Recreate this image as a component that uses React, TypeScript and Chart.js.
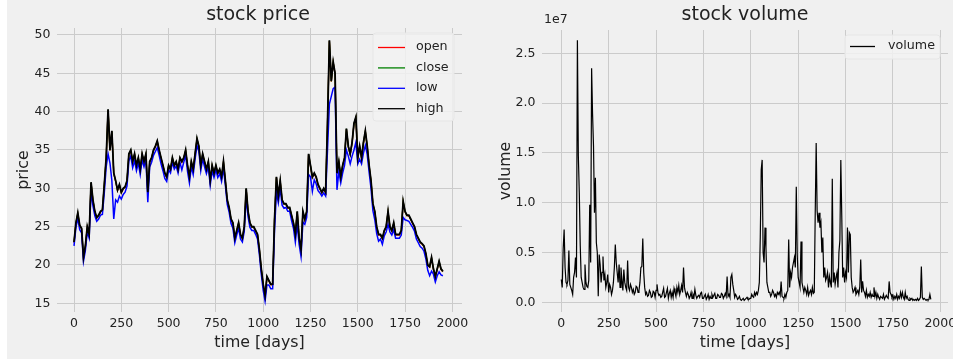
import React, { useEffect, useRef } from "react";
import { Chart, registerables } from "chart.js";

Chart.register(...registerables);

// ---- data ----
// price: one sample every 10 trading days
const PRICE_STEP_DAYS = 10;
// volume: one sample every 5 trading days
const VOLUME_STEP_DAYS = 5;

const openPrice = [
  22.9, 25.4, 26.7, 25.1, 24.7, 20.9, 22.4, 24.9, 23.9, 30.7,
  28.4, 26.9, 26.1, 26.4, 26.9, 27.1, 30.4, 33.9, 40.2, 34.9,
  37.4, 31.9, 30.9, 29.7, 30.4, 29.4, 29.9, 30.1, 30.9, 34.4,
  34.9, 33.4, 34.4, 32.9, 33.9, 32.4, 34.4, 33.4, 34.4, 29.4,
  33.4, 33.9, 34.9, 35.4, 36.1, 34.9, 33.9, 32.9, 31.9, 31.4,
  32.9, 32.4, 33.9, 32.9, 33.4, 32.4, 33.9, 33.4, 33.9, 34.9,
  32.9, 31.4, 33.4, 32.4, 34.4, 36.4, 35.4, 32.9, 34.4, 33.4,
  32.4, 33.4, 30.9, 32.9, 31.9, 32.9, 31.9, 32.4, 31.4, 33.4,
  30.9, 28.4, 27.4, 25.9, 25.4, 23.4, 24.4, 25.4, 23.9, 23.4,
  24.9, 29.9, 26.9, 25.4, 24.9, 24.9, 24.4, 23.9, 21.9, 19.4,
  17.4, 15.9, 18.4, 17.9, 17.4, 17.4, 25.9, 31.4, 28.9, 30.9,
  28.4, 27.9, 27.9, 27.4, 27.4, 26.4, 25.4, 23.9, 26.9, 23.4,
  21.9, 26.9, 25.9, 26.9, 34.4, 32.9, 31.4, 31.9, 31.4, 30.4,
  29.9, 29.4, 29.9, 29.4, 38.4, 49.2, 43.9, 46.4, 44.9, 31.9,
  33.4, 31.4, 32.9, 33.9, 37.7, 35.4, 34.4, 35.9, 38.4, 39.2,
  33.9, 35.4, 33.9, 35.9, 37.4, 35.4, 32.9, 30.9, 27.9, 26.9,
  24.9, 23.9, 23.9, 23.4, 24.4, 24.9, 26.9, 24.9, 24.4, 25.4,
  23.9, 23.9, 23.9, 24.4, 28.2, 26.9, 26.4, 26.4, 25.9, 25.4,
  24.9, 23.9, 23.4, 22.9, 22.7, 22.4, 21.4, 19.9, 19.7, 20.9,
  19.4, 18.4, 19.4, 20.4, 19.4, 19.1,
];

const closePrice = [
  22.95, 25.45, 26.75, 25.15, 24.75, 20.95, 22.45, 24.95, 23.95, 30.75,
  28.45, 26.95, 26.15, 26.45, 26.95, 27.15, 30.45, 33.95, 40.25, 34.95,
  37.45, 31.95, 30.95, 29.75, 30.45, 29.45, 29.95, 30.15, 30.95, 34.45,
  34.95, 33.45, 34.45, 32.95, 33.95, 32.45, 34.45, 33.45, 34.45, 29.45,
  33.45, 33.95, 34.95, 35.45, 36.15, 34.95, 33.95, 32.95, 31.95, 31.45,
  32.95, 32.45, 33.95, 32.95, 33.45, 32.45, 33.95, 33.45, 33.95, 34.95,
  32.95, 31.45, 33.45, 32.45, 34.45, 36.45, 35.45, 32.95, 34.45, 33.45,
  32.45, 33.45, 30.95, 32.95, 31.95, 32.95, 31.95, 32.45, 31.45, 33.45,
  30.95, 28.45, 27.45, 25.95, 25.45, 23.45, 24.45, 25.45, 23.95, 23.45,
  24.95, 29.95, 26.95, 25.45, 24.95, 24.95, 24.45, 23.95, 21.95, 19.45,
  17.45, 15.95, 18.45, 17.95, 17.45, 17.45, 25.95, 31.45, 28.95, 30.95,
  28.45, 27.95, 27.95, 27.45, 27.45, 26.45, 25.45, 23.95, 26.95, 23.45,
  21.95, 26.95, 25.95, 26.95, 34.45, 32.95, 31.45, 31.95, 31.45, 30.45,
  29.95, 29.45, 29.95, 29.45, 38.45, 49.25, 43.95, 46.45, 44.95, 31.95,
  33.45, 31.45, 32.95, 33.95, 37.75, 35.45, 34.45, 35.95, 38.45, 39.25,
  33.95, 35.45, 33.95, 35.95, 37.45, 35.45, 32.95, 30.95, 27.95, 26.95,
  24.95, 23.95, 23.95, 23.45, 24.45, 24.95, 26.95, 24.95, 24.45, 25.45,
  23.95, 23.95, 23.95, 24.45, 28.25, 26.95, 26.45, 26.45, 25.95, 25.45,
  24.95, 23.95, 23.45, 22.95, 22.75, 22.45, 21.45, 19.95, 19.75, 20.95,
  19.45, 18.45, 19.45, 20.45, 19.45, 19.15,
];

const lowPrice = [
  22.5, 24.9, 26.1, 24.6, 24.2, 20.5, 21.9, 24.3, 23.5, 29.6,
  27.7, 26.4, 25.7, 26.0, 26.5, 26.6, 29.4, 32.8, 34.5, 33.3,
  31.0, 26.0, 28.5, 28.2, 29.0, 28.6, 29.2, 29.5, 30.3, 33.6,
  34.2, 32.7, 33.6, 32.3, 33.3, 31.8, 33.7, 32.8, 33.8, 28.2,
  32.8, 33.4, 34.3, 34.8, 35.3, 34.3, 33.2, 32.3, 31.3, 30.9,
  32.4, 32.0, 33.4, 32.5, 32.9, 32.0, 33.4, 32.4, 33.4, 34.3,
  32.2, 30.7, 32.8, 31.8, 33.8, 35.6, 34.8, 32.3, 33.8, 32.8,
  31.9, 32.8, 30.4, 32.3, 31.4, 32.4, 31.4, 31.9, 30.9, 32.6,
  30.4, 27.9, 26.9, 25.4, 24.8, 22.9, 23.9, 24.8, 23.4, 23.0,
  24.4, 28.8, 26.3, 24.9, 24.5, 24.5, 24.0, 23.4, 21.3, 18.8,
  16.7, 15.3, 17.4, 17.4, 16.9, 16.9, 24.5, 29.5, 28.1, 30.0,
  27.8, 27.4, 27.5, 27.0, 27.0, 25.8, 24.8, 23.0, 25.3, 22.7,
  21.1, 25.6, 25.3, 26.2, 31.8, 31.5, 29.6, 31.1, 30.6, 29.7,
  29.4, 29.0, 29.4, 29.0, 35.0, 41.0, 42.0, 43.0, 43.2, 29.8,
  32.2, 30.7, 32.0, 33.0, 35.0, 34.2, 33.2, 34.2, 35.0, 36.0,
  33.2, 33.8, 33.2, 34.6, 35.6, 34.4, 32.1, 30.0, 27.1, 25.9,
  24.1, 23.1, 23.4, 22.7, 23.8, 24.3, 25.3, 24.3, 23.9, 24.6,
  23.5, 23.5, 23.5, 23.9, 26.2, 25.9, 25.8, 25.7, 25.3, 24.9,
  24.4, 23.4, 22.9, 22.4, 22.2, 21.8, 20.8, 19.3, 18.6, 19.2,
  18.8, 17.8, 18.6, 19.1, 18.7, 18.6,
];

const highPrice = [
  23.0, 25.5, 26.8, 25.2, 24.8, 21.0, 22.5, 25.0, 24.0, 30.8,
  28.5, 27.0, 26.2, 26.5, 27.0, 27.2, 30.5, 34.0, 40.3, 35.0,
  37.5, 32.0, 31.0, 29.8, 30.5, 29.5, 30.0, 30.2, 31.0, 34.5,
  35.0, 33.5, 34.5, 33.0, 34.0, 32.5, 34.5, 33.5, 34.5, 29.5,
  33.5, 34.0, 35.0, 35.5, 36.2, 35.0, 34.0, 33.0, 32.0, 31.5,
  33.0, 32.5, 34.0, 33.0, 33.5, 32.5, 34.0, 33.5, 34.0, 35.0,
  33.0, 31.5, 33.5, 32.5, 34.5, 36.5, 35.5, 33.0, 34.5, 33.5,
  32.5, 33.5, 31.0, 33.0, 32.0, 33.0, 32.0, 32.5, 31.5, 33.5,
  31.0, 28.5, 27.5, 26.0, 25.5, 23.5, 24.5, 25.5, 24.0, 23.5,
  25.0, 30.0, 27.0, 25.5, 25.0, 25.0, 24.5, 24.0, 22.0, 19.5,
  17.5, 16.0, 18.5, 18.0, 17.5, 17.5, 26.0, 31.5, 29.0, 31.0,
  28.5, 28.0, 28.0, 27.5, 27.5, 26.5, 25.5, 24.0, 27.0, 23.5,
  22.0, 27.0, 26.0, 27.0, 34.5, 33.0, 31.5, 32.0, 31.5, 30.5,
  30.0, 29.5, 30.0, 29.5, 38.5, 49.3, 44.0, 46.5, 45.0, 32.0,
  33.5, 31.5, 33.0, 34.0, 37.8, 35.5, 34.5, 36.0, 38.5, 39.3,
  34.0, 35.5, 34.0, 36.0, 37.5, 35.5, 33.0, 31.0, 28.0, 27.0,
  25.0, 24.0, 24.0, 23.5, 24.5, 25.0, 27.0, 25.0, 24.5, 25.5,
  24.0, 24.0, 24.0, 24.5, 28.3, 27.0, 26.5, 26.5, 26.0, 25.5,
  25.0, 24.0, 23.5, 23.0, 22.8, 22.5, 21.5, 20.0, 19.8, 21.0,
  19.5, 18.5, 19.5, 20.5, 19.5, 19.2,
];

// volume in millions of shares
const volumeMillions = [
  2.3, 1.5, 5.4, 7.3, 3.5, 2.0, 1.8, 2.2, 5.2, 1.8,
  1.5, 1.2, 0.8, 2.5, 3.0, 4.5, 2.5, 26.3, 14.7, 11.0,
  5.7, 2.5, 2.0, 1.5, 1.3, 3.8, 2.0, 1.6, 1.5, 2.2,
  9.8, 4.0, 23.5, 18.9, 15.7, 9.0, 12.5, 6.0, 5.0, 0.6,
  4.8, 3.8, 2.0, 3.0, 4.6, 2.2, 2.8, 1.5, 2.0, 2.8,
  1.0, 1.8, 1.5, 0.8, 1.2, 2.0, 3.5, 5.8, 4.0, 3.0,
  2.0, 3.8, 1.5, 3.5, 2.2, 1.2, 3.3, 2.0, 1.5, 1.2,
  4.2, 1.5, 1.2, 1.8, 1.5, 1.0, 1.3, 0.8, 1.0, 1.6,
  1.5, 1.0, 1.2, 2.0, 3.5, 3.6, 6.4, 3.0, 1.5, 0.8,
  1.0, 0.6, 0.7, 1.2, 1.0, 0.5, 0.6, 1.1, 1.0, 0.5,
  1.2, 1.8, 1.0, 0.7, 0.8, 0.5, 0.6, 1.0, 1.4, 0.5,
  0.6, 1.0, 1.4, 0.4, 0.9, 1.2, 0.5, 1.0, 0.5, 1.4,
  1.0, 0.6, 1.5, 1.0, 1.7, 0.8, 1.2, 1.7, 1.0, 3.5,
  1.5, 1.0, 0.6, 1.0, 0.8, 0.4, 0.6, 1.0, 0.4, 0.8,
  0.5, 1.3, 0.7, 0.4, 0.6, 0.7, 0.5, 0.9, 1.0, 0.4,
  0.4, 0.6, 0.8, 0.3, 0.5, 0.8, 0.3, 0.6, 0.4, 0.8,
  0.5, 0.7, 0.9, 0.4, 0.4, 0.8, 0.7, 0.5, 0.5, 0.9,
  0.8, 0.4, 0.6, 0.9, 0.6, 2.6, 0.6, 0.8, 0.5, 2.5,
  2.8, 1.8, 1.2, 0.5, 0.8, 0.6, 0.3, 0.4, 0.6, 0.3,
  0.2, 0.3, 0.4, 0.2, 0.3, 0.4, 0.5, 0.3, 0.3, 0.4,
  0.4, 0.8, 0.6, 0.5, 1.0, 0.7, 1.0, 0.8, 1.2, 2.0,
  6.5, 13.3, 14.3, 5.0, 4.0, 7.5, 5.5, 2.0, 1.5, 1.0,
  1.0, 0.6, 0.8, 1.2, 1.0, 0.6, 0.8, 0.5, 1.0, 0.8,
  1.0, 0.7, 2.1, 0.6, 0.5, 0.4, 0.8, 0.5, 1.0, 1.2,
  6.3, 1.5, 3.0, 2.5, 3.5, 4.0, 4.5, 3.5, 11.6, 4.8,
  2.5, 2.0, 1.5, 6.1, 2.0, 1.5, 1.0, 1.5, 1.2, 0.8,
  1.5, 0.7, 1.0, 1.2, 0.8, 1.5, 0.9, 1.0, 9.0, 16.0,
  9.2, 8.0, 9.0, 7.5, 8.0, 5.0, 6.5, 2.5, 3.5, 2.2,
  2.5, 3.0, 1.5, 2.6, 2.0, 1.5, 12.4, 2.0, 3.0, 1.8,
  2.5, 3.0, 1.5, 5.0, 6.2, 14.3, 8.7, 2.5, 3.5, 2.0,
  3.0, 2.5, 7.5, 3.0, 7.0, 6.8, 2.5, 1.5, 1.0, 1.2,
  1.5, 0.8, 1.0, 1.2, 0.8, 1.5, 4.3, 1.0, 2.1, 1.2,
  1.0, 0.6, 1.2, 0.5, 0.8, 0.6, 1.0, 0.5, 0.8, 0.6,
  1.5, 0.6, 1.0, 0.4, 0.8, 0.5, 0.3, 0.6, 0.5, 0.4,
  0.8, 0.3, 0.5, 0.7, 0.5, 0.4, 2.1, 1.0, 0.8, 0.5,
  0.7, 0.3, 0.6, 0.4, 0.8, 0.3, 0.6, 0.4, 1.0, 0.5,
  1.0, 0.5, 0.3, 1.0, 0.4, 0.6, 0.3, 0.2, 0.4, 0.3,
  0.4, 0.2, 0.3, 0.2, 0.3, 0.2, 0.4, 0.2, 0.3, 0.5,
  3.6, 0.5, 0.3, 0.4, 0.3, 0.2, 0.3, 0.2, 0.3, 0.8,
  0.3,
];

const dayTicks = [0, 250, 500, 750, 1000, 1250, 1500, 1750, 2000];
const priceTicks = [15, 20, 25, 30, 35, 40, 45, 50];
const volumeTicks = [0, 5, 10, 15, 20, 25]; // millions -> shown in 1e7 units

const priceSeries = [
  { label: "open", data: openPrice, color: "#ff0000", order: 3, width: 1.3 },
  { label: "close", data: closePrice, color: "#008000", order: 2, width: 1.3 },
  { label: "low", data: lowPrice, color: "#0000ff", order: 1, width: 1.5 },
  { label: "high", data: highPrice, color: "#000000", order: 0, width: 1.8 },
];

// ---- styling ----
const FONT = "'DejaVu Sans', 'Liberation Sans', sans-serif";
const TEXT = "#222222";
const GRID = "#cbcbcb";

const toPoints = (arr: number[], step: number) => arr.map((y, i) => ({ x: i * step, y }));

type LegendItem = { label: string; color: string };

function overlayPlugin(opts: {
  title: string;
  titleX: number;
  titleY: number;
  legend: LegendItem[];
  box: { x: number; y: number; w: number; h: number };
  lineX0: number;
  lineX1: number;
  textX: number;
  rowY0: number;
  rowGap: number;
  offsetText?: { text: string; x: number; y: number };
}) {
  return {
    id: "overlay",
    afterDraw(chart: any) {
      const ctx = chart.ctx as CanvasRenderingContext2D;
      ctx.save();
      ctx.fillStyle = TEXT;
      ctx.font = `19px ${FONT}`;
      ctx.textAlign = "center";
      ctx.textBaseline = "middle";
      ctx.fillText(opts.title, opts.titleX, opts.titleY);
      if (opts.offsetText) {
        ctx.font = `12.5px ${FONT}`;
        ctx.textAlign = "left";
        ctx.fillText(opts.offsetText.text, opts.offsetText.x, opts.offsetText.y);
      }
      const { x, y, w, h } = opts.box;
      const r = 3;
      ctx.beginPath();
      ctx.moveTo(x + r, y);
      ctx.lineTo(x + w - r, y);
      ctx.quadraticCurveTo(x + w, y, x + w, y + r);
      ctx.lineTo(x + w, y + h - r);
      ctx.quadraticCurveTo(x + w, y + h, x + w - r, y + h);
      ctx.lineTo(x + r, y + h);
      ctx.quadraticCurveTo(x, y + h, x, y + h - r);
      ctx.lineTo(x, y + r);
      ctx.quadraticCurveTo(x, y, x + r, y);
      ctx.closePath();
      ctx.fillStyle = "rgba(242,242,242,0.85)";
      ctx.fill();
      ctx.strokeStyle = "#e6e6e6";
      ctx.lineWidth = 1;
      ctx.stroke();
      ctx.font = `12.7px ${FONT}`;
      ctx.textAlign = "left";
      ctx.textBaseline = "middle";
      opts.legend.forEach((item, i) => {
        const yy = opts.rowY0 + i * opts.rowGap;
        ctx.strokeStyle = item.color;
        ctx.lineWidth = 1.3;
        ctx.beginPath();
        ctx.moveTo(opts.lineX0, yy + 0.5);
        ctx.lineTo(opts.lineX1, yy + 0.5);
        ctx.stroke();
        ctx.fillStyle = TEXT;
        ctx.fillText(item.label, opts.textX, yy);
      });
      ctx.restore();
    },
  };
}

function xScale(min: number, max: number) {
  return {
    type: "linear" as const,
    min,
    max,
    afterBuildTicks: (s: any) => {
      s.ticks = dayTicks.map((v) => ({ value: v }));
    },
    afterFit: (s: any) => {
      s.height = 47;
      s.paddingLeft = 0;
      s.paddingRight = 0;
    },
    grid: { color: GRID, lineWidth: 1, drawTicks: false },
    border: { display: false },
    ticks: {
      padding: 4,
      color: TEXT,
      font: { family: FONT, size: 12.5 },
      maxRotation: 0,
      autoSkip: false,
      callback: (v: any) => String(v),
    },
    title: {
      display: true,
      text: "time [days]",
      color: TEXT,
      font: { family: FONT, size: 15.8 },
      padding: { top: 0, bottom: 6.5 },
    },
  };
}

function yScale(
  min: number,
  max: number,
  ticks: number[],
  width: number,
  label: string,
  titlePad: number,
  fmt: (v: number) => string
) {
  return {
    type: "linear" as const,
    min,
    max,
    afterBuildTicks: (s: any) => {
      s.ticks = ticks.map((v) => ({ value: v }));
    },
    afterFit: (s: any) => {
      s.width = width;
      s.paddingTop = 0;
      s.paddingBottom = 0;
    },
    grid: { color: GRID, lineWidth: 1, drawTicks: false },
    border: { display: false },
    ticks: {
      padding: 6.5,
      color: TEXT,
      font: { family: FONT, size: 12.5 },
      autoSkip: false,
      callback: (v: any) => fmt(Number(v)),
    },
    title: {
      display: true,
      text: label,
      color: TEXT,
      font: { family: FONT, size: 15.8 },
      padding: { top: titlePad, bottom: 0 },
    },
  };
}

function priceConfig(): any {
  return {
    type: "line",
    data: {
      datasets: priceSeries.map((s) => ({
        label: s.label,
        data: toPoints(s.data, PRICE_STEP_DAYS),
        borderColor: s.color,
        backgroundColor: s.color,
        borderWidth: s.width,
        pointRadius: 0,
        tension: 0,
        fill: false,
        order: s.order,
      })),
    },
    options: {
      responsive: false,
      animation: false,
      events: [],
      layout: { padding: { left: 0, top: 28, right: 18, bottom: 0 } },
      plugins: { legend: { display: false }, tooltip: { enabled: false }, title: { display: false } },
      scales: {
        x: xScale(-90, 2051),
        y: yScale(13.87, 50.91, priceTicks, 50, "price", 7.4, (v) => String(v)),
      },
    },
    plugins: [
      overlayPlugin({
        title: "stock price",
        titleX: 251,
        titleY: 15,
        legend: priceSeries.map((s) => ({ label: s.label, color: s.color })),
        box: { x: 366, y: 33, w: 81, h: 88 },
        lineX0: 371,
        lineX1: 398,
        textX: 409,
        rowY0: 47,
        rowGap: 20.4,
      }),
    ],
  };
}

function volumeConfig(): any {
  return {
    type: "line",
    data: {
      datasets: [
        {
          label: "volume",
          data: toPoints(volumeMillions, VOLUME_STEP_DAYS),
          borderColor: "#000000",
          backgroundColor: "#000000",
          borderWidth: 1.2,
          pointRadius: 0,
          tension: 0,
          fill: false,
        },
      ],
    },
    options: {
      responsive: false,
      animation: false,
      events: [],
      layout: { padding: { left: 0, top: 30, right: 5, bottom: 0 } },
      plugins: { legend: { display: false }, tooltip: { enabled: false }, title: { display: false } },
      scales: {
        x: xScale(-101.8, 2040.6),
        y: yScale(-0.97, 27.34, volumeTicks, 62, "volume", 16.4, (v) => (v / 10).toFixed(1)),
      },
    },
    plugins: [
      overlayPlugin({
        title: "stock volume",
        titleX: 265,
        titleY: 15,
        legend: [{ label: "volume", color: "#000000" }],
        box: { x: 365, y: 35, w: 95, h: 24 },
        lineX0: 370,
        lineX1: 395,
        textX: 408,
        rowY0: 46,
        rowGap: 20,
        offsetText: { text: "1e7", x: 64, y: 20 },
      }),
    ],
  };
}

function ChartCanvas({ make, left, width, height }: { make: () => any; left: number; width: number; height: number }) {
  const ref = useRef<HTMLCanvasElement>(null);
  useEffect(() => {
    if (!ref.current) return;
    const chart = new Chart(ref.current, make());
    return () => chart.destroy();
  }, [make]);
  return (
    <canvas
      ref={ref}
      width={width}
      height={height}
      style={{ position: "absolute", left, top: 0, width, height, display: "block" }}
    />
  );
}

export default function App() {
  return (
    <div style={{ position: "absolute", left: 0, top: 0, width: 953, height: 364, background: "#ffffff", overflow: "hidden" }}>
      <div style={{ position: "absolute", left: 7, top: 0, width: 946, height: 359, background: "#f0f0f0" }} />
      <ChartCanvas make={priceConfig} left={7} width={473} height={359} />
      <ChartCanvas make={volumeConfig} left={480} width={473} height={359} />
    </div>
  );
}
